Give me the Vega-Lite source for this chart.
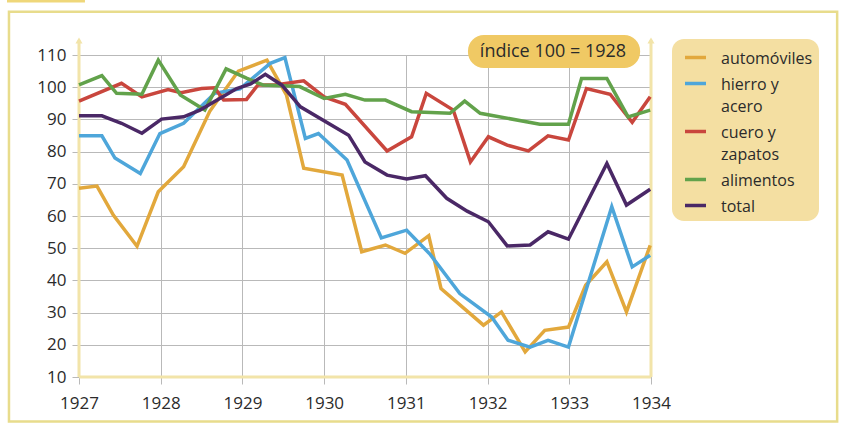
{
  "$schema": "https://vega.github.io/schema/vega-lite/v6.json",
  "width": 572,
  "height": 322,
  "autosize": {"type": "none"},
  "padding": {"left": 79, "top": 55, "right": 190, "bottom": 46},
  "background": "white",
  "config": {
    "view": {"stroke": null},
    "font": "Open Sans",
    "axis": {
      "labelFont": "Open Sans",
      "labelFontSize": 17,
      "labelColor": "#2b2b2b",
      "labelOverlap": false,
      "labelFlush": false,
      "gridColor": "#b9b9b9",
      "gridWidth": 1,
      "gridOpacity": 1,
      "tickColor": "#b9b9b9",
      "tickSize": 7,
      "domain": false,
      "title": null
    },
    "legend": {
      "labelFont": "Open Sans",
      "labelFontSize": 16,
      "labelColor": "#2b2b2b"
    }
  },
  "datasets": {
    "series": [
      {"s": "automóviles", "x": 1927.0, "v": 68.6},
      {"s": "automóviles", "x": 1927.22, "v": 69.3},
      {"s": "automóviles", "x": 1927.42, "v": 60.3},
      {"s": "automóviles", "x": 1927.71, "v": 50.6},
      {"s": "automóviles", "x": 1927.97, "v": 67.5},
      {"s": "automóviles", "x": 1928.28, "v": 75.3},
      {"s": "automóviles", "x": 1928.6, "v": 92.5},
      {"s": "automóviles", "x": 1928.95, "v": 105.0},
      {"s": "automóviles", "x": 1929.3, "v": 108.4},
      {"s": "automóviles", "x": 1929.54, "v": 97.5},
      {"s": "automóviles", "x": 1929.75, "v": 74.8},
      {"s": "automóviles", "x": 1930.22, "v": 72.7},
      {"s": "automóviles", "x": 1930.46, "v": 48.9},
      {"s": "automóviles", "x": 1930.75, "v": 51.0},
      {"s": "automóviles", "x": 1930.99, "v": 48.4},
      {"s": "automóviles", "x": 1931.28, "v": 53.9},
      {"s": "automóviles", "x": 1931.43, "v": 37.5},
      {"s": "automóviles", "x": 1931.95, "v": 26.1},
      {"s": "automóviles", "x": 1932.17, "v": 30.2},
      {"s": "automóviles", "x": 1932.46, "v": 17.8},
      {"s": "automóviles", "x": 1932.7, "v": 24.5},
      {"s": "automóviles", "x": 1932.99, "v": 25.5},
      {"s": "automóviles", "x": 1933.2, "v": 38.5},
      {"s": "automóviles", "x": 1933.46, "v": 45.8},
      {"s": "automóviles", "x": 1933.7, "v": 30.2},
      {"s": "automóviles", "x": 1933.99, "v": 50.9},

      {"s": "hierro y acero", "x": 1927.0, "v": 84.9},
      {"s": "hierro y acero", "x": 1927.28, "v": 84.9},
      {"s": "hierro y acero", "x": 1927.44, "v": 78.0},
      {"s": "hierro y acero", "x": 1927.75, "v": 73.2},
      {"s": "hierro y acero", "x": 1927.99, "v": 85.6},
      {"s": "hierro y acero", "x": 1928.28, "v": 88.8},
      {"s": "hierro y acero", "x": 1928.66, "v": 98.1},
      {"s": "hierro y acero", "x": 1928.97, "v": 99.5},
      {"s": "hierro y acero", "x": 1929.34, "v": 107.4},
      {"s": "hierro y acero", "x": 1929.52, "v": 109.2},
      {"s": "hierro y acero", "x": 1929.77, "v": 84.1},
      {"s": "hierro y acero", "x": 1929.93, "v": 85.6},
      {"s": "hierro y acero", "x": 1930.28, "v": 77.4},
      {"s": "hierro y acero", "x": 1930.7, "v": 53.2},
      {"s": "hierro y acero", "x": 1931.01, "v": 55.6},
      {"s": "hierro y acero", "x": 1931.3, "v": 48.0},
      {"s": "hierro y acero", "x": 1931.66, "v": 35.9},
      {"s": "hierro y acero", "x": 1932.05, "v": 28.6},
      {"s": "hierro y acero", "x": 1932.25, "v": 21.4},
      {"s": "hierro y acero", "x": 1932.52, "v": 19.3},
      {"s": "hierro y acero", "x": 1932.74, "v": 21.4},
      {"s": "hierro y acero", "x": 1932.99, "v": 19.3},
      {"s": "hierro y acero", "x": 1933.52, "v": 62.9},
      {"s": "hierro y acero", "x": 1933.77, "v": 44.2},
      {"s": "hierro y acero", "x": 1933.99, "v": 47.8},

      {"s": "cuero y zapatos", "x": 1927.0, "v": 95.7},
      {"s": "cuero y zapatos", "x": 1927.52, "v": 101.2},
      {"s": "cuero y zapatos", "x": 1927.77, "v": 97.0},
      {"s": "cuero y zapatos", "x": 1928.09, "v": 99.3},
      {"s": "cuero y zapatos", "x": 1928.25, "v": 98.3},
      {"s": "cuero y zapatos", "x": 1928.5, "v": 99.6},
      {"s": "cuero y zapatos", "x": 1928.66, "v": 99.8},
      {"s": "cuero y zapatos", "x": 1928.77, "v": 96.0},
      {"s": "cuero y zapatos", "x": 1929.05, "v": 96.2},
      {"s": "cuero y zapatos", "x": 1929.19, "v": 100.7},
      {"s": "cuero y zapatos", "x": 1929.4, "v": 100.7},
      {"s": "cuero y zapatos", "x": 1929.75, "v": 102.0},
      {"s": "cuero y zapatos", "x": 1930.0, "v": 97.0},
      {"s": "cuero y zapatos", "x": 1930.26, "v": 94.7},
      {"s": "cuero y zapatos", "x": 1930.77, "v": 80.2},
      {"s": "cuero y zapatos", "x": 1931.07, "v": 84.6},
      {"s": "cuero y zapatos", "x": 1931.25, "v": 98.1},
      {"s": "cuero y zapatos", "x": 1931.58, "v": 92.9},
      {"s": "cuero y zapatos", "x": 1931.79, "v": 76.8},
      {"s": "cuero y zapatos", "x": 1932.01, "v": 84.6},
      {"s": "cuero y zapatos", "x": 1932.24, "v": 82.0},
      {"s": "cuero y zapatos", "x": 1932.5, "v": 80.2},
      {"s": "cuero y zapatos", "x": 1932.74, "v": 84.9},
      {"s": "cuero y zapatos", "x": 1932.99, "v": 83.6},
      {"s": "cuero y zapatos", "x": 1933.21, "v": 99.6},
      {"s": "cuero y zapatos", "x": 1933.5, "v": 97.8},
      {"s": "cuero y zapatos", "x": 1933.77, "v": 89.1},
      {"s": "cuero y zapatos", "x": 1933.99, "v": 97.0},

      {"s": "alimentos", "x": 1927.0, "v": 100.7},
      {"s": "alimentos", "x": 1927.28, "v": 103.6},
      {"s": "alimentos", "x": 1927.46, "v": 98.1},
      {"s": "alimentos", "x": 1927.77, "v": 97.8},
      {"s": "alimentos", "x": 1927.97, "v": 108.4},
      {"s": "alimentos", "x": 1928.24, "v": 97.6},
      {"s": "alimentos", "x": 1928.54, "v": 92.9},
      {"s": "alimentos", "x": 1928.8, "v": 105.7},
      {"s": "alimentos", "x": 1929.05, "v": 102.8},
      {"s": "alimentos", "x": 1929.25, "v": 100.7},
      {"s": "alimentos", "x": 1929.7, "v": 100.2},
      {"s": "alimentos", "x": 1930.0, "v": 96.5},
      {"s": "alimentos", "x": 1930.26, "v": 97.8},
      {"s": "alimentos", "x": 1930.5, "v": 96.0},
      {"s": "alimentos", "x": 1930.75, "v": 96.0},
      {"s": "alimentos", "x": 1931.07, "v": 92.4},
      {"s": "alimentos", "x": 1931.54, "v": 91.9},
      {"s": "alimentos", "x": 1931.72, "v": 95.7},
      {"s": "alimentos", "x": 1931.91, "v": 91.9},
      {"s": "alimentos", "x": 1932.64, "v": 88.5},
      {"s": "alimentos", "x": 1932.99, "v": 88.5},
      {"s": "alimentos", "x": 1933.15, "v": 102.7},
      {"s": "alimentos", "x": 1933.46, "v": 102.7},
      {"s": "alimentos", "x": 1933.72, "v": 90.8},
      {"s": "alimentos", "x": 1933.99, "v": 92.9},

      {"s": "total", "x": 1927.0, "v": 91.1},
      {"s": "total", "x": 1927.28, "v": 91.1},
      {"s": "total", "x": 1927.52, "v": 88.8},
      {"s": "total", "x": 1927.77, "v": 85.7},
      {"s": "total", "x": 1928.01, "v": 90.1},
      {"s": "total", "x": 1928.28, "v": 90.8},
      {"s": "total", "x": 1928.48, "v": 92.9},
      {"s": "total", "x": 1928.93, "v": 99.6},
      {"s": "total", "x": 1929.1, "v": 101.0},
      {"s": "total", "x": 1929.28, "v": 104.0},
      {"s": "total", "x": 1929.48, "v": 100.7},
      {"s": "total", "x": 1929.71, "v": 93.9},
      {"s": "total", "x": 1930.3, "v": 85.1},
      {"s": "total", "x": 1930.5, "v": 76.8},
      {"s": "total", "x": 1930.77, "v": 72.7},
      {"s": "total", "x": 1931.01, "v": 71.5},
      {"s": "total", "x": 1931.24, "v": 72.5},
      {"s": "total", "x": 1931.5, "v": 65.5},
      {"s": "total", "x": 1931.75, "v": 61.5},
      {"s": "total", "x": 1932.01, "v": 58.2},
      {"s": "total", "x": 1932.24, "v": 50.7},
      {"s": "total", "x": 1932.52, "v": 51.0},
      {"s": "total", "x": 1932.74, "v": 55.1},
      {"s": "total", "x": 1932.99, "v": 52.8},
      {"s": "total", "x": 1933.46, "v": 76.3},
      {"s": "total", "x": 1933.7, "v": 63.4},
      {"s": "total", "x": 1933.99, "v": 68.3}
    ]
  },
  "layer": [
    {
      "data": {"values": [{"x1": 1926.143, "x2": 1936.278, "y1": -3.8, "y2": 123.4}]},
      "mark": {"type": "rect", "fill": null, "stroke": "#e8dc8c", "strokeWidth": 2.5, "clip": false},
      "encoding": {
        "x": {"field": "x1", "type": "quantitative", "scale": {"domain": [1927, 1934], "nice": false, "zero": false},
              "axis": {"values": [1927, 1928, 1929, 1930, 1931, 1932, 1933, 1934], "format": "d", "labelPadding": 11}},
        "x2": {"field": "x2"},
        "y": {"field": "y1", "type": "quantitative", "scale": {"domain": [10, 110], "nice": false, "zero": false},
              "axis": {"values": [10, 20, 30, 40, 50, 60, 70, 80, 90, 100, 110], "tickCount": 11, "labelPadding": 6}},
        "y2": {"field": "y2"}
      }
    },
    {
      "data": {"values": [{"x1": 1926.119, "x2": 1927.073, "y1": 126.3, "y2": 127.2}]},
      "mark": {"type": "rect", "fill": "#efd77a", "clip": false},
      "encoding": {
        "x": {"field": "x1", "type": "quantitative",
              "axis": {"values": [1927, 1928, 1929, 1930, 1931, 1932, 1933, 1934], "format": "d", "labelPadding": 11}},
        "x2": {"field": "x2"},
        "y": {"field": "y1", "type": "quantitative",
              "axis": {"values": [10, 20, 30, 40, 50, 60, 70, 80, 90, 100, 110], "tickCount": 11, "labelPadding": 6}},
        "y2": {"field": "y2"}
      }
    },
    {
      "data": {"values": [
        {"xa": 1927, "xb": 1927, "ya": 10, "yb": 114.5},
        {"xa": 1934, "xb": 1934, "ya": 10, "yb": 114.5},
        {"xa": 1927, "xb": 1934, "ya": 10, "yb": 10}
      ]},
      "mark": {"type": "rule", "color": "#f2e4a9", "strokeWidth": 3, "clip": false},
      "encoding": {
        "x": {"field": "xa", "type": "quantitative",
              "axis": {"values": [1927, 1928, 1929, 1930, 1931, 1932, 1933, 1934], "format": "d", "labelPadding": 11}},
        "x2": {"field": "xb"},
        "y": {"field": "ya", "type": "quantitative",
              "axis": {"values": [10, 20, 30, 40, 50, 60, 70, 80, 90, 100, 110], "tickCount": 11, "labelPadding": 6}},
        "y2": {"field": "yb"}
      }
    },
    {
      "data": {"values": [{"xa": 1927, "ya": 114.5}, {"xa": 1934, "ya": 114.5}]},
      "mark": {"type": "point", "shape": "triangle-up", "filled": true, "color": "#f2e4a9", "size": 50, "opacity": 1, "clip": false},
      "encoding": {
        "x": {"field": "xa", "type": "quantitative",
              "axis": {"values": [1927, 1928, 1929, 1930, 1931, 1932, 1933, 1934], "format": "d", "labelPadding": 11}},
        "y": {"field": "ya", "type": "quantitative",
              "axis": {"values": [10, 20, 30, 40, 50, 60, 70, 80, 90, 100, 110], "tickCount": 11, "labelPadding": 6}}
      }
    },
    {
      "data": {"name": "series"},
      "mark": {"type": "line", "strokeWidth": 3.5, "strokeJoin": "miter", "clip": false},
      "encoding": {
        "x": {"field": "x", "type": "quantitative",
              "axis": {"values": [1927, 1928, 1929, 1930, 1931, 1932, 1933, 1934], "format": "d", "labelPadding": 11}},
        "y": {"field": "v", "type": "quantitative",
              "axis": {"values": [10, 20, 30, 40, 50, 60, 70, 80, 90, 100, 110], "tickCount": 11, "labelPadding": 6}},
        "color": {
          "field": "s", "type": "nominal",
          "scale": {
            "domain": ["automóviles", "hierro y acero", "cuero y zapatos", "alimentos", "total"],
            "range": ["#e2a83c", "#4ea6da", "#c9463d", "#62a24b", "#4a2866"]
          },
          "legend": {
            "title": null,
            "orient": "none",
            "legendX": 593,
            "legendY": -16,
            "fillColor": "#f4dfa2",
            "cornerRadius": 12,
            "padding": 6,
            "symbolType": "stroke",
            "symbolSize": 441,
            "symbolStrokeWidth": 3.5,
            "symbolOffset": 5,
            "labelOffset": 13,
            "labelBaseline": "alphabetic",
            "rowPadding": 4,
            "labelLimit": 200,
            "labelExpr": "datum.label == 'hierro y acero' ? ['hierro y', 'acero'] : datum.label == 'cuero y zapatos' ? ['cuero y', 'zapatos'] : datum.label",
            "encode": {
              "labels": {"update": {"dy": {"value": 6}, "lineHeight": {"value": 22}}}
            }
          }
        },
        "order": {"field": "x", "type": "quantitative"}
      }
    },
    {
      "data": {"values": [{"xa": 1931.76, "xb": 1933.867, "ya": 105.96, "yb": 116.2}]},
      "mark": {"type": "rect", "fill": "#f0c964", "cornerRadius": 16, "clip": false},
      "encoding": {
        "x": {"field": "xa", "type": "quantitative"},
        "x2": {"field": "xb"},
        "y": {"field": "ya", "type": "quantitative"},
        "y2": {"field": "yb"}
      }
    },
    {
      "data": {"values": [{"xa": 1932.8, "ya": 111.0, "t": "índice 100  =  1928"}]},
      "mark": {"type": "text", "fontSize": 18, "color": "#2b2b2b", "align": "center", "baseline": "middle", "clip": false},
      "encoding": {
        "x": {"field": "xa", "type": "quantitative"},
        "y": {"field": "ya", "type": "quantitative"},
        "text": {"field": "t"}
      }
    }
  ]
}
